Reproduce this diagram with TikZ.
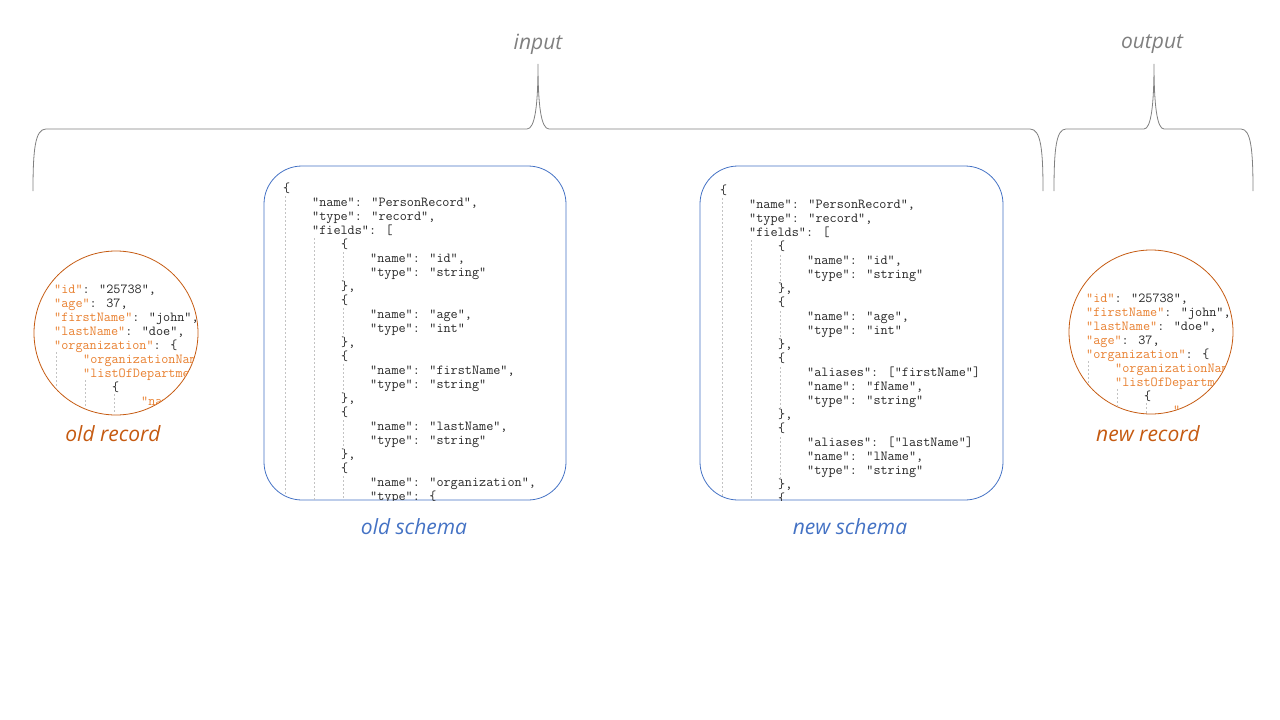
\documentclass[tikz,border=0pt]{standalone}
\usepackage{xcolor}
\usepackage{fontspec}
\setmainfont{Open Sans}
\usepackage{tikz}
\usetikzlibrary{positioning, calc}

\definecolor{recorange}{RGB}{197,90,17}
\definecolor{keyorange}{RGB}{232,128,48}
\definecolor{schemablue}{RGB}{68,114,196}
\definecolor{bracegray}{RGB}{128,128,128}
\definecolor{guidegray}{RGB}{195,195,195}
\definecolor{codegray}{RGB}{40,40,40}

\newcommand{\jk}[1]{\textcolor{keyorange}{"#1"}}

\tikzset{
	code/.style={anchor=base west, inner sep=0pt, font=\ttfamily\fontsize{13.8}{14}\selectfont, text=codegray},
	caption/.style={font=\itshape\fontsize{21}{25}\selectfont},
	guide/.style={guidegray, line width=0.5pt, dash pattern=on 2pt off 2pt},
	brace/.style={bracegray, line width=0.8pt},
}

\begin{document}
\begin{tikzpicture}[x=1pt, y=-1pt]
	\useasboundingbox (0,0) rectangle (1280,720);
	
	%//braces on top
	
	\draw[brace] (33,191) .. controls (33,150) and (35,129) .. (46,129) -- (527,129)
		.. controls (535,129) and (538,105) .. (538,64)
		.. controls (538,105) and (541,129) .. (549,129) -- (1030,129)
		.. controls (1041,129) and (1043,150) .. (1043,191);
	\draw[brace] (1054,191) .. controls (1054,150) and (1056,129) .. (1066,129) -- (1144,129)
		.. controls (1151,129) and (1154,105) .. (1154,64)
		.. controls (1154,105) and (1157,129) .. (1164,129) -- (1241,129)
		.. controls (1251,129) and (1253,150) .. (1253,191);
	
	\node [caption, text=bracegray] (inlbl) at (538,44) {input};
	\node [caption, text=bracegray] (outlbl) at (1152,44) {output};
	
	%//old record
	
	\draw[recorange, line width=0.8pt] (116,333) circle (82pt);
	\begin{scope}
		\clip (116,333) circle (81.5pt);
		\foreach \l/\t [count=\i] in {0/{\jk{id}: "25738",}, 0/{\jk{age}: 37,}, 0/{\jk{firstName}: "john",},
			0/{\jk{lastName}: "doe",}, 0/{\jk{organization}: \{}, 1/{\jk{organizationName}: "},
			1/{\jk{listOfDepartments}: [}, 2/{\{}, 3/{\jk{name}: "}}
		\node [code] (orec\i) at (54+29*\l, 293+14*\i-14) {\t};
		\draw[guide] (56,352) -- (56,420);
		\draw[guide] (85,380) -- (85,420);
		\draw[guide] (114,394) -- (114,420);
	\end{scope}
	\node [caption, text=recorange] (oreclbl) at (113,434) {old record};
	
	%//old schema
	
	\def\xstep{283}
	
	\draw[schemablue, line width=0.8pt, rounded corners=38pt] (264,166) rectangle (566,500);
	\begin{scope}
		\clip[rounded corners=38pt] (264,166) rectangle (566,500);
		\foreach \l/\t [count=\i] in {0/{\{}, 1/{"name": "PersonRecord",}, 1/{"type": "record",}, 1/{"fields": [},
			2/{\{}, 3/{"name": "id",}, 3/{"type": "string"}, 2/{\},},
			2/{\{}, 3/{"name": "age",}, 3/{"type": "int"}, 2/{\},},
			2/{\{}, 3/{"name": "firstName",}, 3/{"type": "string"}, 2/{\},},
			2/{\{}, 3/{"name": "lastName",}, 3/{"type": "string"}, 2/{\},},
			2/{\{}, 3/{"name": "organization",}, 3/{"type": \{}}
		\node [code] (osch\i) at (\xstep+29*\l, 192+14*\i-14) {\t};
		\draw[guide] (\xstep+2,196) -- (\xstep+2,505);
		\draw[guide] (\xstep+31,238) -- (\xstep+31,505);
		\foreach \y in {244,300,356,412,468}
		\draw[guide] (\xstep+60,\y+8) -- (\xstep+60,\y+38);
	\end{scope}
	\node [caption, text=schemablue] (oschlbl) at (414,527) {old schema};
	
	%//new schema
	
	\def\xstep{720}
	
	\draw[schemablue, line width=0.8pt, rounded corners=38pt] (700,166) rectangle (1003,500);
	\begin{scope}
		\clip[rounded corners=38pt] (700,166) rectangle (1003,500);
		\foreach \l/\t [count=\i] in {0/{\{}, 1/{"name": "PersonRecord",}, 1/{"type": "record",}, 1/{"fields": [},
			2/{\{}, 3/{"name": "id",}, 3/{"type": "string"}, 2/{\},},
			2/{\{}, 3/{"name": "age",}, 3/{"type": "int"}, 2/{\},},
			2/{\{}, 3/{"aliases": ["firstName"]}, 3/{"name": "fName",}, 3/{"type": "string"}, 2/{\},},
			2/{\{}, 3/{"aliases": ["lastName"]}, 3/{"name": "lName",}, 3/{"type": "string"}, 2/{\},},
			2/{\{}}
		\node [code] (nsch\i) at (\xstep+29*\l, 194+14*\i-14) {\t};
		\draw[guide] (\xstep+2,198) -- (\xstep+2,505);
		\draw[guide] (\xstep+31,240) -- (\xstep+31,505);
		\foreach \a/\b in {255/285, 311/341, 367/411, 437/481}
		\draw[guide] (\xstep+60,\a) -- (\xstep+60,\b);
	\end{scope}
	\node [caption, text=schemablue] (nschlbl) at (850,527) {new schema};
	
	%//new record
	
	\draw[recorange, line width=0.8pt] (1151,332) circle (82pt);
	\begin{scope}
		\clip (1151,332) circle (81.5pt);
		\foreach \l/\t [count=\i] in {0/{\jk{id}: "25738",}, 0/{\jk{firstName}: "john",}, 0/{\jk{lastName}: "doe",},
			0/{\jk{age}: 37,}, 0/{\jk{organization}: \{}, 1/{\jk{organizationName}: "},
			1/{\jk{listOfDepartments}: [}, 2/{\{}, 3/{\jk{name}: "}}
		\node [code] (nrec\i) at (1086+29*\l, 302+14*\i-14) {\t};
		\draw[guide] (1088,361) -- (1088,420);
		\draw[guide] (1117,389) -- (1117,420);
		\draw[guide] (1146,403) -- (1146,420);
	\end{scope}
	\node [caption, text=recorange] (nreclbl) at (1148,434) {new record};
	
\end{tikzpicture}
\end{document}
